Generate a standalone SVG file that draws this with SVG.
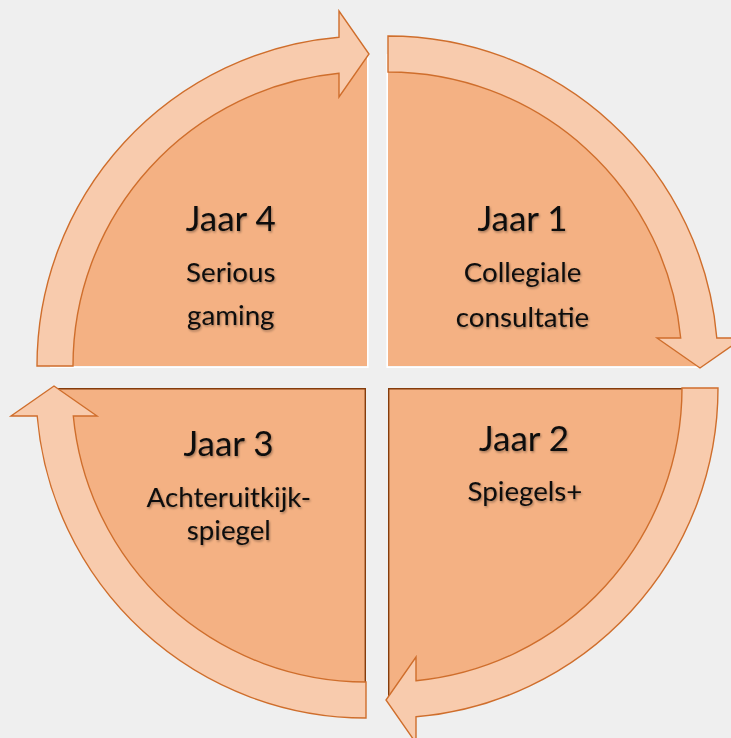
<svg xmlns="http://www.w3.org/2000/svg" width="731" height="738" viewBox="0 0 731 738">
  <defs>
    <style>
      .sector { fill: #F4B183; stroke: none; }
      .band { fill: #F8CBAD; stroke: #CF6E2C; stroke-width: 1.4; stroke-linejoin: miter; }
      .hl { stroke: #FFFFFF; stroke-width: 1.6; fill: none; }
      .sh { stroke: #843C0C; stroke-width: 1.4; fill: none; }
      .t1 { font-family: Lato, "Open Sans", sans-serif; font-size: 35px; fill: #0d0d0d; text-anchor: middle; }
      .t2 { font-family: Lato, "Open Sans", sans-serif; font-size: 27.7px; fill: #0d0d0d; text-anchor: middle; }
    </style>
    <path id="arrow" d="M 0,-330 A 330 330 0 0 1 328.8,-28 L 355,-28 L 312,2 L 269,-28 L 292.7,-28 A 294 294 0 0 0 0,-294 Z"/>
    <filter id="tshadow" x="-10%" y="-20%" width="120%" height="140%">
      <feDropShadow dx="1" dy="1.5" stdDeviation="1.2" flood-color="#000000" flood-opacity="0.35"/>
    </filter>
  </defs>
  <rect x="0" y="0" width="731" height="738" fill="#EFEFEF"/>

  <g id="node-jaar1">
    <path class="sector" d="M388,366 V54 A312 312 0 0 1 700,366 Z"/>
    <path class="hl" d="M387.2,54 V367.2 H700"/>
    <g filter="url(#tshadow)">
      <text class="t1" x="522.5" y="231">Jaar 1</text>
      <text class="t2" x="522.5" y="282">Collegiale</text>
      <text class="t2" x="522.5" y="327">consultatie</text>
    </g>
  </g>

  <g id="node-jaar2">
    <path class="sector" d="M388,388 H700 A312 312 0 0 1 388,700 Z"/>
    <path class="sh" d="M388.7,700 V388.7 H700"/>
    <g filter="url(#tshadow)">
      <text class="t1" x="524" y="451">Jaar 2</text>
      <text class="t2" x="525" y="501">Spiegels+</text>
    </g>
  </g>

  <g id="node-jaar3">
    <path class="sector" d="M366,388 V700 A312 312 0 0 1 54,388 Z"/>
    <path class="sh" d="M54,388.7 H365.3 V700"/>
    <g filter="url(#tshadow)">
      <text class="t1" x="228.5" y="456">Jaar 3</text>
      <text class="t2" x="228.8" y="507">Achteruitkijk-</text>
      <text class="t2" x="228.8" y="540">spiegel</text>
    </g>
  </g>

  <g id="node-jaar4">
    <path class="sector" d="M367,366 H55 A312 312 0 0 1 367,54 Z"/>
    <path class="hl" d="M50,367.2 H367.8 V54"/>
    <g filter="url(#tshadow)">
      <text class="t1" x="230.8" y="231">Jaar 4</text>
      <text class="t2" x="230.8" y="282">Serious</text>
      <text class="t2" x="230.8" y="325">gaming</text>
    </g>
  </g>

  <g id="connectors">
    <use href="#arrow" class="band" transform="translate(388,366)"/>
    <use href="#arrow" class="band" transform="translate(388,388) rotate(90)"/>
    <use href="#arrow" class="band" transform="translate(366,388) rotate(180)"/>
    <use href="#arrow" class="band" transform="translate(367,366) rotate(270)"/>
  </g>
</svg>
